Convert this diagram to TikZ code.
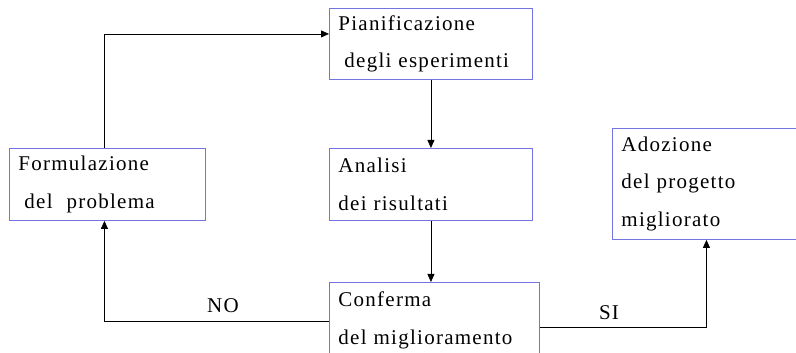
\documentclass[tikz,border=0pt]{standalone}
\usepackage{fontspec}
\setmainfont{Liberation Serif}[LetterSpace=6]
\usetikzlibrary{arrows.meta}
\definecolor{boxblue}{RGB}{115,115,225}
\tikzset{
  box/.style={draw=boxblue, line width=0.9pt, rectangle, anchor=north west,
    align=left, inner xsep=9pt, inner ysep=0pt,
    font=\fontsize{21}{37.5}\selectfont},
  arr/.style={draw=black, line width=0.8pt, -{Triangle[length=8pt,width=7pt]}},
  lbl/.style={font=\fontsize{21}{25}\selectfont, inner sep=0pt}
}
\begin{document}
\begin{tikzpicture}[x=1pt,y=1pt]
\useasboundingbox (0,0) rectangle (796,353);
\node[box, text width=178pt, minimum height=72pt] (form) at (9,205)
  {Formulazione\\\hspace*{6pt}del\ \ problema};
\node[box, text width=185pt, minimum height=71pt] (pian) at (329,345)
  {Pianificazione\\\hspace*{6pt}degli esperimenti};
\node[box, text width=185pt, minimum height=72pt] (ana) at (329,205)
  {Analisi\\dei risultati};
\node[box, text width=170pt, minimum height=111pt] (adoz) at (612,225)
  {Adozione\\del progetto\\migliorato};
\node[box, text width=192pt, minimum height=76pt] (conf) at (329,71)
  {Conferma\\del miglioramento};
\draw[arr] ([xshift=-3pt]form.north) |- ([yshift=10pt]pian.west);
\draw[arr] (pian.south) -- (pian.south |- ana.north);
\draw[arr] (ana.south) -- (ana.south |- conf.north);
\draw[arr] ([yshift=-1pt]conf.west) -| ([xshift=-3pt]form.south);
\draw[arr] ([yshift=-7pt]conf.east) -| (adoz.south);
\node[lbl] (no) at (223,47) {NO};
\node[lbl] (si) at (609,40) {SI};
\end{tikzpicture}
\end{document}
